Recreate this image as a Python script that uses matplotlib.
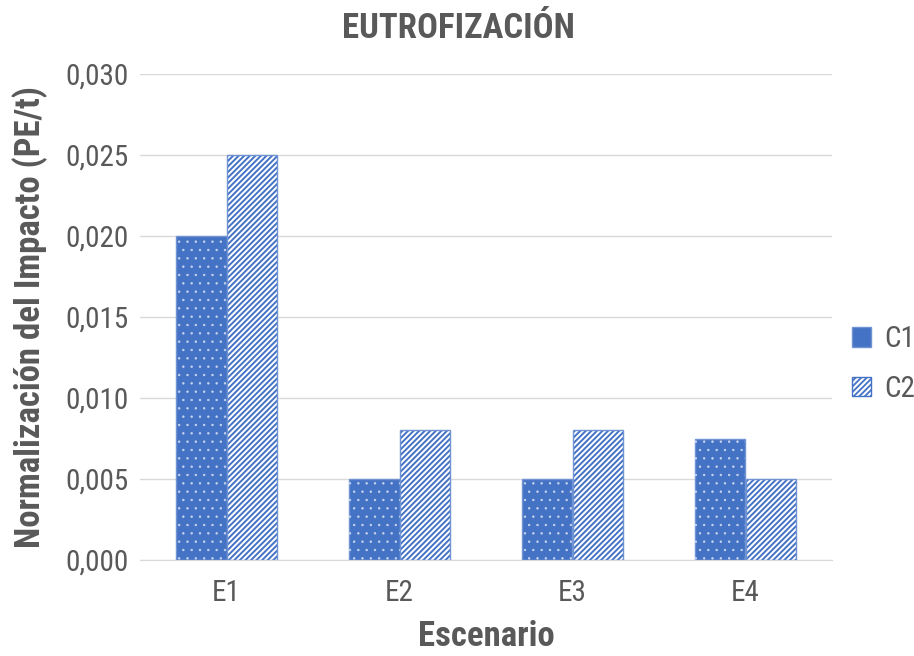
import matplotlib.pyplot as plt
import numpy as np
from matplotlib.patches import Patch

plt.rcParams['font.family'] = ['Roboto Condensed', 'Liberation Sans Narrow', 'Liberation Sans', 'DejaVu Sans']

escenarios = ["E1", "E2", "E3", "E4"]
c1 = [0.020, 0.005, 0.005, 0.0075]
c2 = [0.025, 0.008, 0.008, 0.005]
yticks = [0.000, 0.005, 0.010, 0.015, 0.020, 0.025, 0.030]

blue = "#4472C4"
grey_txt = "#595959"

fig = plt.figure(figsize=(9.14, 6.56), dpi=100)
ax = fig.add_axes([140 / 914, 1 - 560 / 656, 692 / 914, 486 / 656])

x = np.arange(len(escenarios))
w = 0.29
# C1: solid blue with small light dots
ax.bar(x - w / 2, c1, w, color=blue, edgecolor="#6F93D3", lw=1.0, zorder=2)
plt.rcParams['hatch.linewidth'] = 0.5
ax.bar(x - w / 2, c1, w, facecolor="none", edgecolor="#C9D6EF", hatch="..", lw=0, zorder=3)
# C2: white with blue diagonal stripes
plt.rcParams['hatch.linewidth'] = 1.4
ax.bar(x + w / 2, c2, w, facecolor="white", edgecolor=blue, hatch="//////", lw=0, zorder=2)
ax.bar(x + w / 2, c2, w, facecolor="none", edgecolor="#6F93D3", lw=1.0, zorder=3)

ax.set_xlim(-0.5, 3.5)
ax.set_ylim(0, 0.030)
ax.set_yticks(yticks)
ax.set_yticklabels([f"{v:.3f}".replace(".", ",") for v in yticks])
ax.set_xticks(x)
ax.set_xticklabels(escenarios)
ax.yaxis.grid(True, color="#D9D9D9", lw=1)
ax.set_axisbelow(True)
for s in ["top", "right", "left"]:
    ax.spines[s].set_visible(False)
ax.spines["bottom"].set_color("#D9D9D9")
ax.tick_params(length=0, labelsize=21, colors=grey_txt, pad=8)
ax.tick_params(axis="x", pad=14)

ax.set_xlabel("Escenario", fontsize=25, fontweight="bold", color=grey_txt)
ax.xaxis.set_label_coords(0.5, -(636 - 560) / 486)
ax.xaxis.label.set_va("center")
ax.set_ylabel("Normalización del Impacto (PE/t)", fontsize=25, fontweight="bold",
              color=grey_txt)
ax.yaxis.set_label_coords(-(140 - 30) / 692, 0.5)
ax.yaxis.label.set_va("center")
fig.text(458 / 914, 1 - 28 / 656, "EUTROFIZACIÓN", ha="center", va="center",
         fontsize=25, fontweight="bold", color=grey_txt)

plt.rcParams['hatch.linewidth'] = 1.3
h1 = Patch(facecolor=blue, edgecolor="#6F93D3")
h2 = Patch(facecolor="white", edgecolor=blue, hatch="//////")
leg = fig.legend([h1, h2], ["C1", "C2"], loc="center left",
                 bbox_to_anchor=(852 / 914, 1 - 364 / 656), frameon=False,
                 fontsize=21, handlelength=0.65, handleheight=0.65,
                 handletextpad=0.45, labelspacing=0.75, borderpad=0, borderaxespad=0)
for t in leg.get_texts():
    t.set_color(grey_txt)

fig.savefig("out.png", dpi=100)
